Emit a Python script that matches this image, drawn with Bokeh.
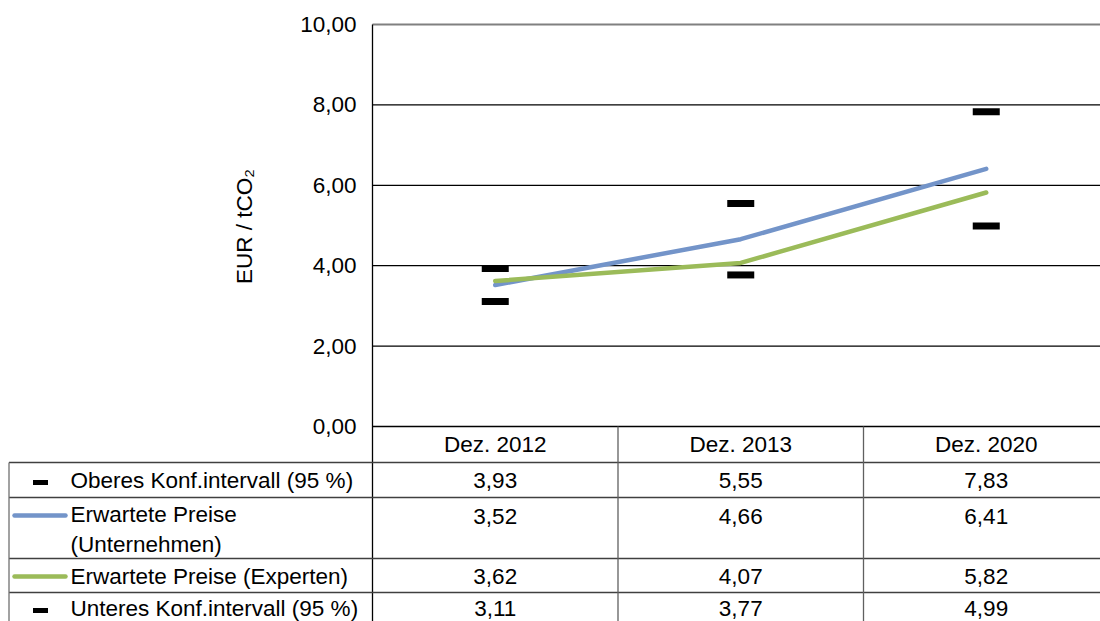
import math
from bokeh.plotting import figure
from bokeh.models import Range1d
from bokeh.embed import file_html
from bokeh.resources import INLINE
from bokeh.core.properties import value

# ---------------- data ----------------
categories = ["Dez. 2012", "Dez. 2013", "Dez. 2020"]
name_oberes = "Oberes Konf.intervall (95 %)"
name_unternehmen = "Erwartete Preise\n(Unternehmen)"
name_experten = "Erwartete Preise (Experten)"
name_unteres = "Unteres Konf.intervall (95 %)"
oberes = [3.93, 5.55, 7.83]
unternehmen = [3.52, 4.66, 6.41]
experten = [3.62, 4.07, 5.82]
unteres = [3.11, 3.77, 4.99]
y_ticks = [0, 2, 4, 6, 8, 10]
y_tick_labels = ["0,00", "2,00", "4,00", "6,00", "8,00", "10,00"]
y_title = "EUR / tCO\u2082"

# ---------------- style / layout ----------------
FONT = "Liberation Sans"
FS = "22.5px"
W, H = 1100, 621
AX_X = 372        # px of the value axis / first column boundary
COLW = 245.5      # px width of one category column
Y0_PX = 426       # px of value 0
PX_PER_UNIT = 40.2
BLUE = "#7394C9"
GREEN = "#9BBB59"
LINE = "#404040"


def X(px):
    return (px - AX_X) / COLW


def Y(py):
    return (Y0_PX - py) / PX_PER_UNIT


def fmt(v):
    return f"{v:.2f}".replace(".", ",")


xs = [i + 0.5 for i in range(len(categories))]
x_end = X(W)

p = figure(width=W, height=H, x_range=Range1d(X(0), X(W)), y_range=Range1d(Y(H), Y(0)),
           output_backend="svg", toolbar_location=None,
           x_axis_location=None, y_axis_location=None, min_border=0)
p.outline_line_color = None
p.background_fill_color = "white"
p.grid.visible = False

# ---- plot area: gridlines, top border, axis line ----
grid_vals = y_ticks[1:-1]
p.segment(x0=[0] * len(grid_vals), y0=grid_vals, x1=[x_end] * len(grid_vals), y1=grid_vals,
          line_color="black", line_width=1.2)
p.segment(x0=[0], y0=[y_ticks[-1]], x1=[x_end], y1=[y_ticks[-1]], line_color="#808080", line_width=2)
p.segment(x0=[0], y0=[y_ticks[0]], x1=[x_end], y1=[y_ticks[0]], line_color="black", line_width=1.5)
p.segment(x0=[0], y0=[y_ticks[-1]], x1=[0], y1=[Y(H)], line_color="black", line_width=1.3)

# ---- y tick labels and axis title ----
p.text(x=[X(356)] * len(y_ticks), y=y_ticks, text=y_tick_labels, text_align="right",
       text_baseline="middle", text_font=value(FONT), text_font_size=FS, text_color="black")
p.text(x=[X(244)], y=[Y(226)], text=[y_title], angle=math.pi / 2, text_align="center",
       text_baseline="middle", text_font=value(FONT), text_font_size=FS, text_color="black")

# ---- series ----
p.line(xs, unternehmen, line_color=BLUE, line_width=4.5, line_cap="round", line_join="round")
p.line(xs, experten, line_color=GREEN, line_width=4.5, line_cap="round", line_join="round")
p.rect(xs, oberes, width=27, height=7, width_units="screen", height_units="screen",
       fill_color="black", line_color=None)
p.rect(xs, unteres, width=27, height=7, width_units="screen", height_units="screen",
       fill_color="black", line_color=None)

# ---- data table lines ----
row_lines = [Y(462), Y(497), Y(558), Y(592)]
xl = X(8.5)
p.segment(x0=[xl] * len(row_lines), y0=row_lines, x1=[x_end] * len(row_lines), y1=row_lines,
          line_color=LINE, line_width=1.3)
p.segment(x0=[xl], y0=[Y(462)], x1=[xl], y1=[Y(H)], line_color="#707070", line_width=1.3)
vx = list(range(1, len(categories)))
p.segment(x0=vx, y0=[0] * len(vx), x1=vx, y1=[Y(H)] * len(vx), line_color="#606060", line_width=1.3)

# header
p.text(x=xs, y=[Y(444)] * len(xs), text=categories, text_align="center", text_baseline="middle",
       text_font=value(FONT), text_font_size=FS, text_color="black")

# values
rows = [(oberes, Y(480)), (unternehmen, Y(516)), (experten, Y(576)), (unteres, Y(608))]
tx, ty, tt = [], [], []
for vals, yy in rows:
    for x, v in zip(xs, vals):
        tx.append(x)
        ty.append(yy)
        tt.append(fmt(v))
p.text(x=tx, y=ty, text=tt, text_align="center", text_baseline="middle",
       text_font=value(FONT), text_font_size=FS, text_color="black")

# legend labels
p.text(x=[X(70)] * 4, y=[Y(480), Y(529), Y(576), Y(608)],
       text=[name_oberes, name_unternehmen, name_experten, name_unteres],
       text_align="left", text_baseline="middle", text_line_height=1.2,
       text_font=value(FONT), text_font_size=FS, text_color="black")

# legend symbols
p.rect([X(40), X(40)], [Y(482), Y(610)], width=15, height=5, width_units="screen",
       height_units="screen", fill_color="black", line_color=None)
p.segment(x0=[X(14)], y0=[Y(515)], x1=[X(65)], y1=[Y(515)], line_color=BLUE, line_width=4.5,
          line_cap="round")
p.segment(x0=[X(14)], y0=[Y(576)], x1=[X(65)], y1=[Y(576)], line_color=GREEN, line_width=4.5,
          line_cap="round")

open("out.html", "w").write(file_html(p, INLINE))
